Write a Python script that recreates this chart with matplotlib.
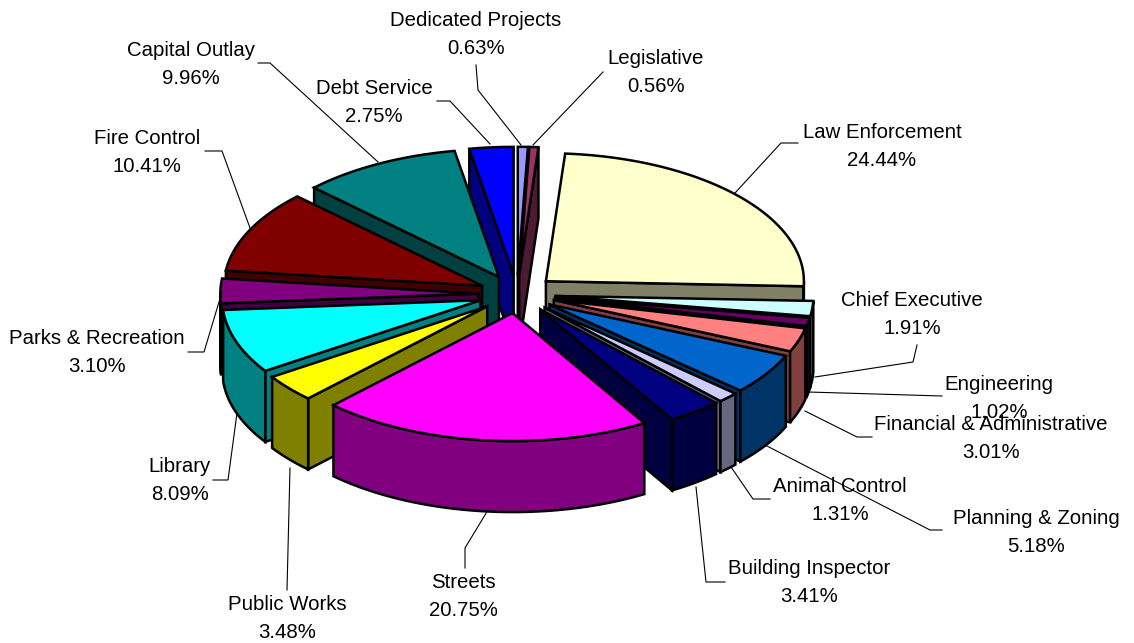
import numpy as np
import matplotlib
matplotlib.use("Agg")
import matplotlib.pyplot as plt
from matplotlib.colors import to_rgb
from matplotlib.patches import Polygon

plt.rcParams["font.family"] = ["Liberation Sans", "DejaVu Sans"]

# clockwise from 12 o'clock
names = ["Dedicated Projects", "Legislative", "Law Enforcement", "Chief Executive",
         "Engineering", "Financial & Administrative", "Planning & Zoning",
         "Animal Control", "Building Inspector", "Streets", "Public Works",
         "Library", "Parks & Recreation", "Fire Control", "Capital Outlay",
         "Debt Service"]
shares = [0.63, 0.56, 24.44, 1.91, 1.02, 3.01, 5.18, 1.31, 3.41, 20.75, 3.48,
          8.09, 3.10, 10.41, 9.96, 2.75]
colors = ["#9999FF", "#993366", "#FFFFCC", "#CCFFFF", "#660066", "#FF8080",
          "#0066CC", "#CCCCFF", "#000080", "#FF00FF", "#FFFF00", "#00FFFF",
          "#800080", "#800000", "#008080", "#0000FF"]

# label centres (first line) and leader paths, in image pixels
label_pos = [(476, 20), (656, 58), (882, 132), (912, 301), (999, 384), (991, 425),
             (1036, 518), (840, 487), (809, 569), (463, 583), (287, 605), (180, 467),
             (97, 339), (147, 138), (191, 51), (374, 89)]
leaders = [[(476, 65), (478, 90), (521, 145)],
           [(603, 72), (533, 145)],
           [(798, 143), (781, 143), (735, 193)],
           [(917, 345), (913, 362), (815, 377)],
           [(942, 396), (808, 392)],
           [(872, 437), (857, 437), (805, 411)],
           [(942, 530), (930, 530), (765, 445)],
           [(770, 499), (753, 499), (731, 467)],
           [(725, 582), (706, 582), (696, 487)],
           [(465, 568), (465, 548), (488, 510)],
           [(287, 590), (290, 468)],
           [(213, 480), (228, 480), (237, 413)],
           [(188, 352), (204, 352), (222, 292)],
           [(205, 151), (222, 151), (250, 228)],
           [(258, 63), (270, 63), (378, 162)],
           [(437, 101), (450, 101), (490, 144)]]

CX, CY = 517, 294
A, B = 258, 128
DEPTH = 71
EXPLODE = 0.15
LW = 1.8

fig = plt.figure(figsize=(11.34, 6.43), dpi=100)
ax = fig.add_axes([0, 0, 1, 1])
ax.set_xlim(0, 1134)
ax.set_ylim(643, 0)
ax.axis("off")


def shade(c):
    return tuple(v * 0.5 for v in to_rgb(c))


def rim(x0, y0, t):
    return np.column_stack([x0 + A * np.sin(t), y0 - B * np.cos(t)])


def poly(pts, fc, z):
    ax.add_patch(Polygon(pts, closed=True, fc=fc, ec="black", lw=LW,
                         joinstyle="miter", zorder=z))


edges = np.radians(np.cumsum([0] + shares) / sum(shares) * 360)
mids = (edges[:-1] + edges[1:]) / 2
# back slices first, front ones painted over them
wrapped = np.abs((mids + np.pi) % (2 * np.pi) - np.pi)
order = np.argsort(wrapped)

for z, i in enumerate(order):
    t0, t1, m = edges[i], edges[i + 1], mids[i]
    x0 = CX + EXPLODE * A * np.sin(m)
    y0 = CY - EXPLODE * B * np.cos(m)
    apex = np.array([x0, y0])
    down = np.array([0, DEPTH])
    side = shade(colors[i])
    base = z * 4

    # radial walls, only those that face the viewer
    for t, seen in ((t0, np.sin(t0) < 0), (t1, np.sin(t1) > 0)):
        if seen:
            p = rim(x0, y0, np.array([t]))[0]
            poly([apex, p, p + down, apex + down], side, base)

    # outer wall, only the near half of the rim shows
    lo, hi = max(t0, np.pi / 2), min(t1, 3 * np.pi / 2)
    if hi > lo:
        arc = rim(x0, y0, np.linspace(lo, hi, 60))
        poly(np.vstack([arc, arc[::-1] + down]), side, base + 1)

    # top face
    arc = rim(x0, y0, np.linspace(t0, t1, 80))
    poly(np.vstack([apex, arc]), colors[i], base + 2)

for name, share, (lx, ly), path in zip(names, shares, label_pos, leaders):
    xs, ys = zip(*path)
    ax.plot(xs, ys, color="black", lw=0.8, zorder=200, solid_joinstyle="miter")
    ax.text(lx, ly, name, ha="center", va="center", fontsize=14.7, color="black", zorder=210)
    ax.text(lx, ly + 28, f"{share:.2f}%", ha="center", va="center", fontsize=14.7,
            color="black", zorder=210)

fig.savefig("out.png", dpi=100, facecolor="white")
